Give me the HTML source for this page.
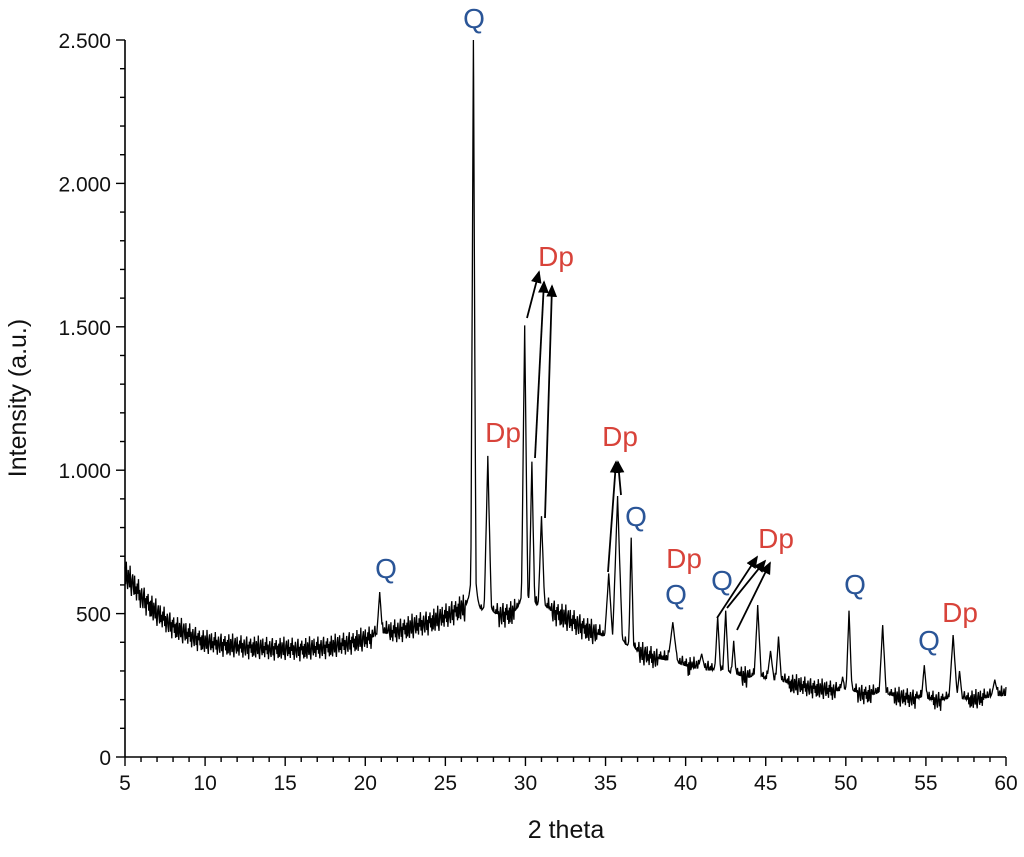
<!DOCTYPE html>
<html><head><meta charset="utf-8"><style>
body{margin:0;background:#fff;}
svg{display:block;font-family:"Liberation Sans",Arial,sans-serif;}
</style></head><body>
<svg id="chart" width="1024" height="857" viewBox="0 0 1024 857">
<g id="axes"></g>
<path id="trace" fill="none" stroke="#000" stroke-width="1.3"></path>
<g id="ann"></g>
<text x="0" y="0" transform="translate(26,398) rotate(-90)" text-anchor="middle" font-size="25" fill="#111">Intensity (a.u.)</text>
<text x="566" y="838" text-anchor="middle" font-size="25" fill="#111">2 theta</text>
</svg>
<script>
const baseX=[5,6,7,8,9,10,12,14,16,18,20,22,24,25,26,27,28,29,30,31,32,33,34,35,36,37,38,39,40,42,44,46,48,50,52,54,56,58,60];
const baseY=[640,560,500,455,425,400,385,378,375,385,410,440,470,490,520,500,490,500,510,520,500,470,440,410,385,365,345,330,315,295,275,260,240,225,215,205,195,200,215];
const peakPos=[20.9,26.75,27.65,29.95,30.4,31.0,35.2,35.75,36.6,39.2,41.0,42.0,42.5,43.0,44.5,45.3,45.8,49.8,50.2,52.3,54.9,56.7,57.1,59.3];
const peakTop=[575,2500,1050,1505,1030,840,640,910,765,470,360,490,510,405,530,370,420,280,510,460,320,425,300,270];
const peakWidth=[0.18,0.16,0.22,0.2,0.18,0.2,0.25,0.3,0.15,0.3,0.22,0.18,0.18,0.15,0.22,0.22,0.18,0.15,0.18,0.22,0.18,0.26,0.18,0.22];
const noise=[12,-18,25,-6,-22,15,3,-14,28,-9,-25,8,19,-3,-16,22,-11,5,-20,14,-4,26,-13,9,-24,2,17,-8,-19,11,24,-15,6,-27,13,-2,20,-12,7,-21];
const xTicks=[5,10,15,20,25,30,35,40,45,50,55,60];
const yTicks=[0,500,1000,1500,2000,2500];
const yTickLabels=["0","500","1.000","1.500","2.000","2.500"];
const X0=125,X1=1006,Y0=757,Y1=40;
const xs=v=>X0+(v-5)*(X1-X0)/55;
const ys=v=>Y0-v*(Y0-Y1)/2500;
const NS="http://www.w3.org/2000/svg";
function mk(t,a,p){const e=document.createElementNS(NS,t);for(const k in a)e.setAttribute(k,a[k]);p.appendChild(e);return e;}
function base(x){for(let i=0;i<baseX.length-1;i++){if(x<=baseX[i+1]){const f=(x-baseX[i])/(baseX[i+1]-baseX[i]);return baseY[i]+f*(baseY[i+1]-baseY[i]);}}return baseY[baseY.length-1];}
const samples=[];for(let x=5;x<=60.001;x+=0.04)samples.push({x:x,n:true});
peakPos.forEach(p=>samples.push({x:p,n:false}));
samples.sort((a,b)=>a.x-b.x);
let d="";let k=0;
samples.forEach(s=>{
  const x=s.x;const b=base(x);let v=b;
  if(s.n){v=b+noise[k%noise.length]*(1.0+b/700);k++;}
  for(let i=0;i<peakPos.length;i++){const dx=Math.abs(x-peakPos[i]);const w=peakWidth[i];if(dx<w*3){const H=peakTop[i]-base(peakPos[i]);const h=H*Math.max(0,1-dx/w)*0.85+H*0.15*Math.exp(-dx/w);v=Math.max(v,b+h);}}
  d+=(d?"L":"M")+xs(x).toFixed(1)+","+ys(v).toFixed(1);
});
document.getElementById('trace').setAttribute('d',d);
const ax=document.getElementById('axes');
let e=mk('line',{x1:X0,y1:Y0,x2:X1,y2:Y0,stroke:'#000','stroke-width':1.6},ax);

e=mk('line',{x1:X0,y1:Y0,x2:X0,y2:Y1,stroke:'#000','stroke-width':1.6},ax);

for(let v=5;v<=60;v++){const maj=(v%5===0);mk('line',{x1:xs(v),y1:Y0,x2:xs(v),y2:Y0+(maj?9:5),stroke:'#000','stroke-width':1.4},ax);}
for(let v=0;v<=2500;v+=100){const maj=(v%500===0);mk('line',{x1:X0,y1:ys(v),x2:X0-(maj?9:5),y2:ys(v),stroke:'#000','stroke-width':1.4},ax);}
xTicks.forEach(v=>{const t=mk('text',{x:xs(v),y:Y0+33,'text-anchor':'middle','font-size':21,fill:'#111'},ax);t.textContent=v;

});
yTicks.forEach((v,i)=>{const t=mk('text',{x:X0-14,y:ys(v)+8,'text-anchor':'end','font-size':21,fill:'#111'},ax);t.textContent=yTickLabels[i];

});
const labels=[["Q",474,28,"q"],["Q",386,578,"q"],["Dp",503,442,"d"],["Dp",556,266,"d"],["Dp",620,446,"d"],["Q",636,526,"q"],["Dp",684,568,"d"],["Q",676,604,"q"],["Q",722,590,"q"],["Dp",776,548,"d"],["Q",855,594,"q"],["Q",929,650,"q"],["Dp",960,622,"d"]];
const an=document.getElementById('ann');
mk('defs',{},an).innerHTML='<marker id="ah" markerWidth="8" markerHeight="8" refX="6" refY="4" orient="auto"><path d="M0,1 L7,4 L0,7 Z" fill="#000"/></marker>';
labels.forEach(l=>{const t=mk('text',{x:l[1],y:l[2],'text-anchor':'middle','font-size':28,fill:l[3]=="q"?"#2a5597":"#d8433a"},an);t.textContent=l[0];

});
const arrows=[[527,318,539,272],[535,458,544,282],[545,518,552,286],[608,572,616,462],[621,495,618,462],[717,618,757,557],[727,608,765,561],[737,630,770,563]];
arrows.forEach(a=>{const l=mk('line',{x1:a[0],y1:a[1],x2:a[2],y2:a[3],stroke:'#000','stroke-width':1.8,'marker-end':'url(#ah)'},an);

});
</script>
</body></html>
